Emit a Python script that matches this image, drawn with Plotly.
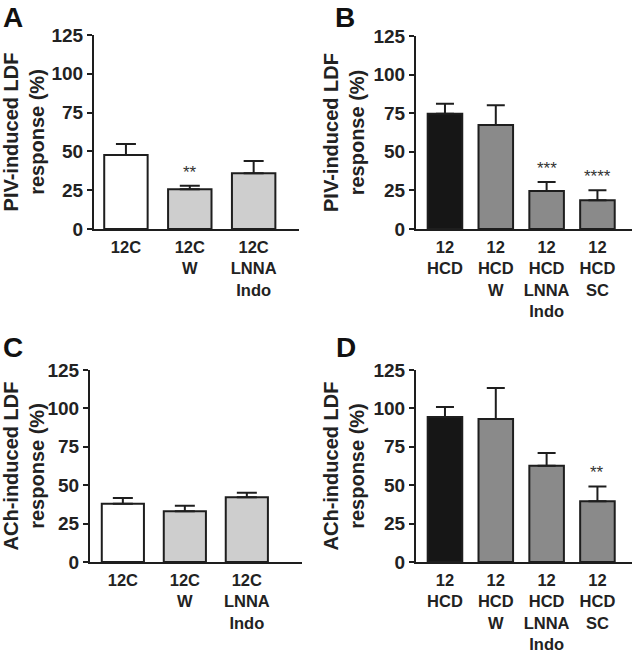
import plotly.graph_objects as go

# ---- data ----
cats_c = ["12C", "12C<br>W", "12C<br>LNNA<br>Indo"]
cats_h = ["12<br>HCD", "12<br>HCD<br>W", "12<br>HCD<br>LNNA<br>Indo", "12<br>HCD<br>SC"]

a_mean = [47.7, 25.6, 35.9]
a_sem = [7.1, 2.3, 7.9]
a_sig = ["", "**", ""]

b_mean = [74.7, 67.4, 24.6, 18.6]
b_sem = [6.5, 12.7, 5.8, 6.5]
b_sig = ["", "", "***", "****"]

c_mean = [38.0, 33.0, 42.1]
c_sem = [3.7, 3.7, 3.0]
c_sig = ["", "", ""]

d_mean = [94.4, 93.1, 62.7, 39.5]
d_sem = [6.5, 20.2, 8.3, 9.7]
d_sig = ["", "", "", "**"]

yticks = [0, 25, 50, 75, 100, 125]
piv_title = "PIV-induced LDF<br>response (%)"
ach_title = "ACh-induced LDF<br>response (%)"

# ---- style ----
W, H = 633, 654
WHITE = "#ffffff"
LIGHT = "#cecece"
BLACK = "#161616"
MID = "#8a8a8a"
EDGE = "#1e1e1e"
FONT = "Liberation Sans, Arial, sans-serif"

fig = go.Figure()

panels = [
    ("A", cats_c, a_mean, a_sem, a_sig, [WHITE, LIGHT, LIGHT], piv_title, (94, 299), (35, 229), (-0.5, 2.71), 10),
    ("B", cats_h, b_mean, b_sem, b_sig, [BLACK, MID, MID, MID], piv_title, (416, 632), (36, 229), (-0.57, 3.68), 9),
    ("C", cats_c, c_mean, c_sem, c_sig, [WHITE, LIGHT, LIGHT], ach_title, (90, 302), (370, 562), (-0.53, 2.89), 10),
    ("D", cats_h, d_mean, d_sem, d_sig, [BLACK, MID, MID, MID], ach_title, (416, 632), (370, 562), (-0.57, 3.68), 9),
]

letter_pos = {"A": (1, 0), "B": (333, 0), "C": (1, 330), "D": (334, 330)}

for i, (name, cats, mean, sem, sig, colors, ytitle, xpx, ypx, xr, capw) in enumerate(panels):
    n = i + 1
    xa = "x" if n == 1 else f"x{n}"
    ya = "y" if n == 1 else f"y{n}"
    xs = list(range(len(cats)))
    fig.add_trace(go.Bar(
        x=xs, y=mean, xaxis=xa, yaxis=ya, width=0.68,
        marker=dict(color=colors, line=dict(color=EDGE, width=2)),
        error_y=dict(type="data", array=sem, arrayminus=[0] * len(sem), symmetric=False,
                     color=EDGE, thickness=2, width=capw),
        showlegend=False, hoverinfo="skip",
    ))
    xkey = "xaxis" if n == 1 else f"xaxis{n}"
    ykey = "yaxis" if n == 1 else f"yaxis{n}"
    fig.update_layout({
        xkey: dict(
            domain=[xpx[0] / W, xpx[1] / W], anchor=ya, range=list(xr),
            tickvals=xs, ticktext=cats, ticks="", showline=True, linecolor=EDGE, linewidth=2,
            showgrid=False, zeroline=False, fixedrange=True, automargin=False,
            ticklabelstandoff=2,
            tickfont=dict(family=FONT, size=16.5, color="#222222", weight="bold"),
        ),
        ykey: dict(
            domain=[1 - ypx[1] / H, 1 - ypx[0] / H], anchor=xa, range=[0, 125],
            tickvals=yticks, ticks="outside", ticklen=5, tickwidth=2, tickcolor=EDGE,
            showline=True, linecolor=EDGE, linewidth=2, showgrid=False, zeroline=False,
            fixedrange=True, automargin=False,
            tickfont=dict(family=FONT, size=19, color="#222222", weight="bold"),
            title=dict(text=ytitle, font=dict(family=FONT, size=20, color="#222222", weight="bold"),
                       standoff=3),
        ),
    })
    for j, s in enumerate(sig):
        if s:
            fig.add_annotation(
                x=j, y=mean[j] + sem[j], xref=xa, yref=ya, text=s, showarrow=False,
                yanchor="bottom", yshift=2,
                font=dict(family=FONT, size=17, color="#333333"),
            )
    lx, ly = letter_pos[name]
    fig.add_annotation(
        x=lx / W, y=1 - ly / H, xref="paper", yref="paper", text=f"<b>{name}</b>",
        showarrow=False, xanchor="left", yanchor="top",
        font=dict(family=FONT, size=28, color="#111111"),
    )

fig.update_layout(
    width=W, height=H, margin=dict(l=0, r=0, t=0, b=0, autoexpand=False),
    paper_bgcolor="white", plot_bgcolor="white",
    font=dict(family=FONT, color="#222222"),
    bargap=0.3,
)

fig.write_html(
    "out.html",
    config={"displayModeBar": False},
    post_script="document.body.style.margin='0';document.body.style.padding='0';",
)
